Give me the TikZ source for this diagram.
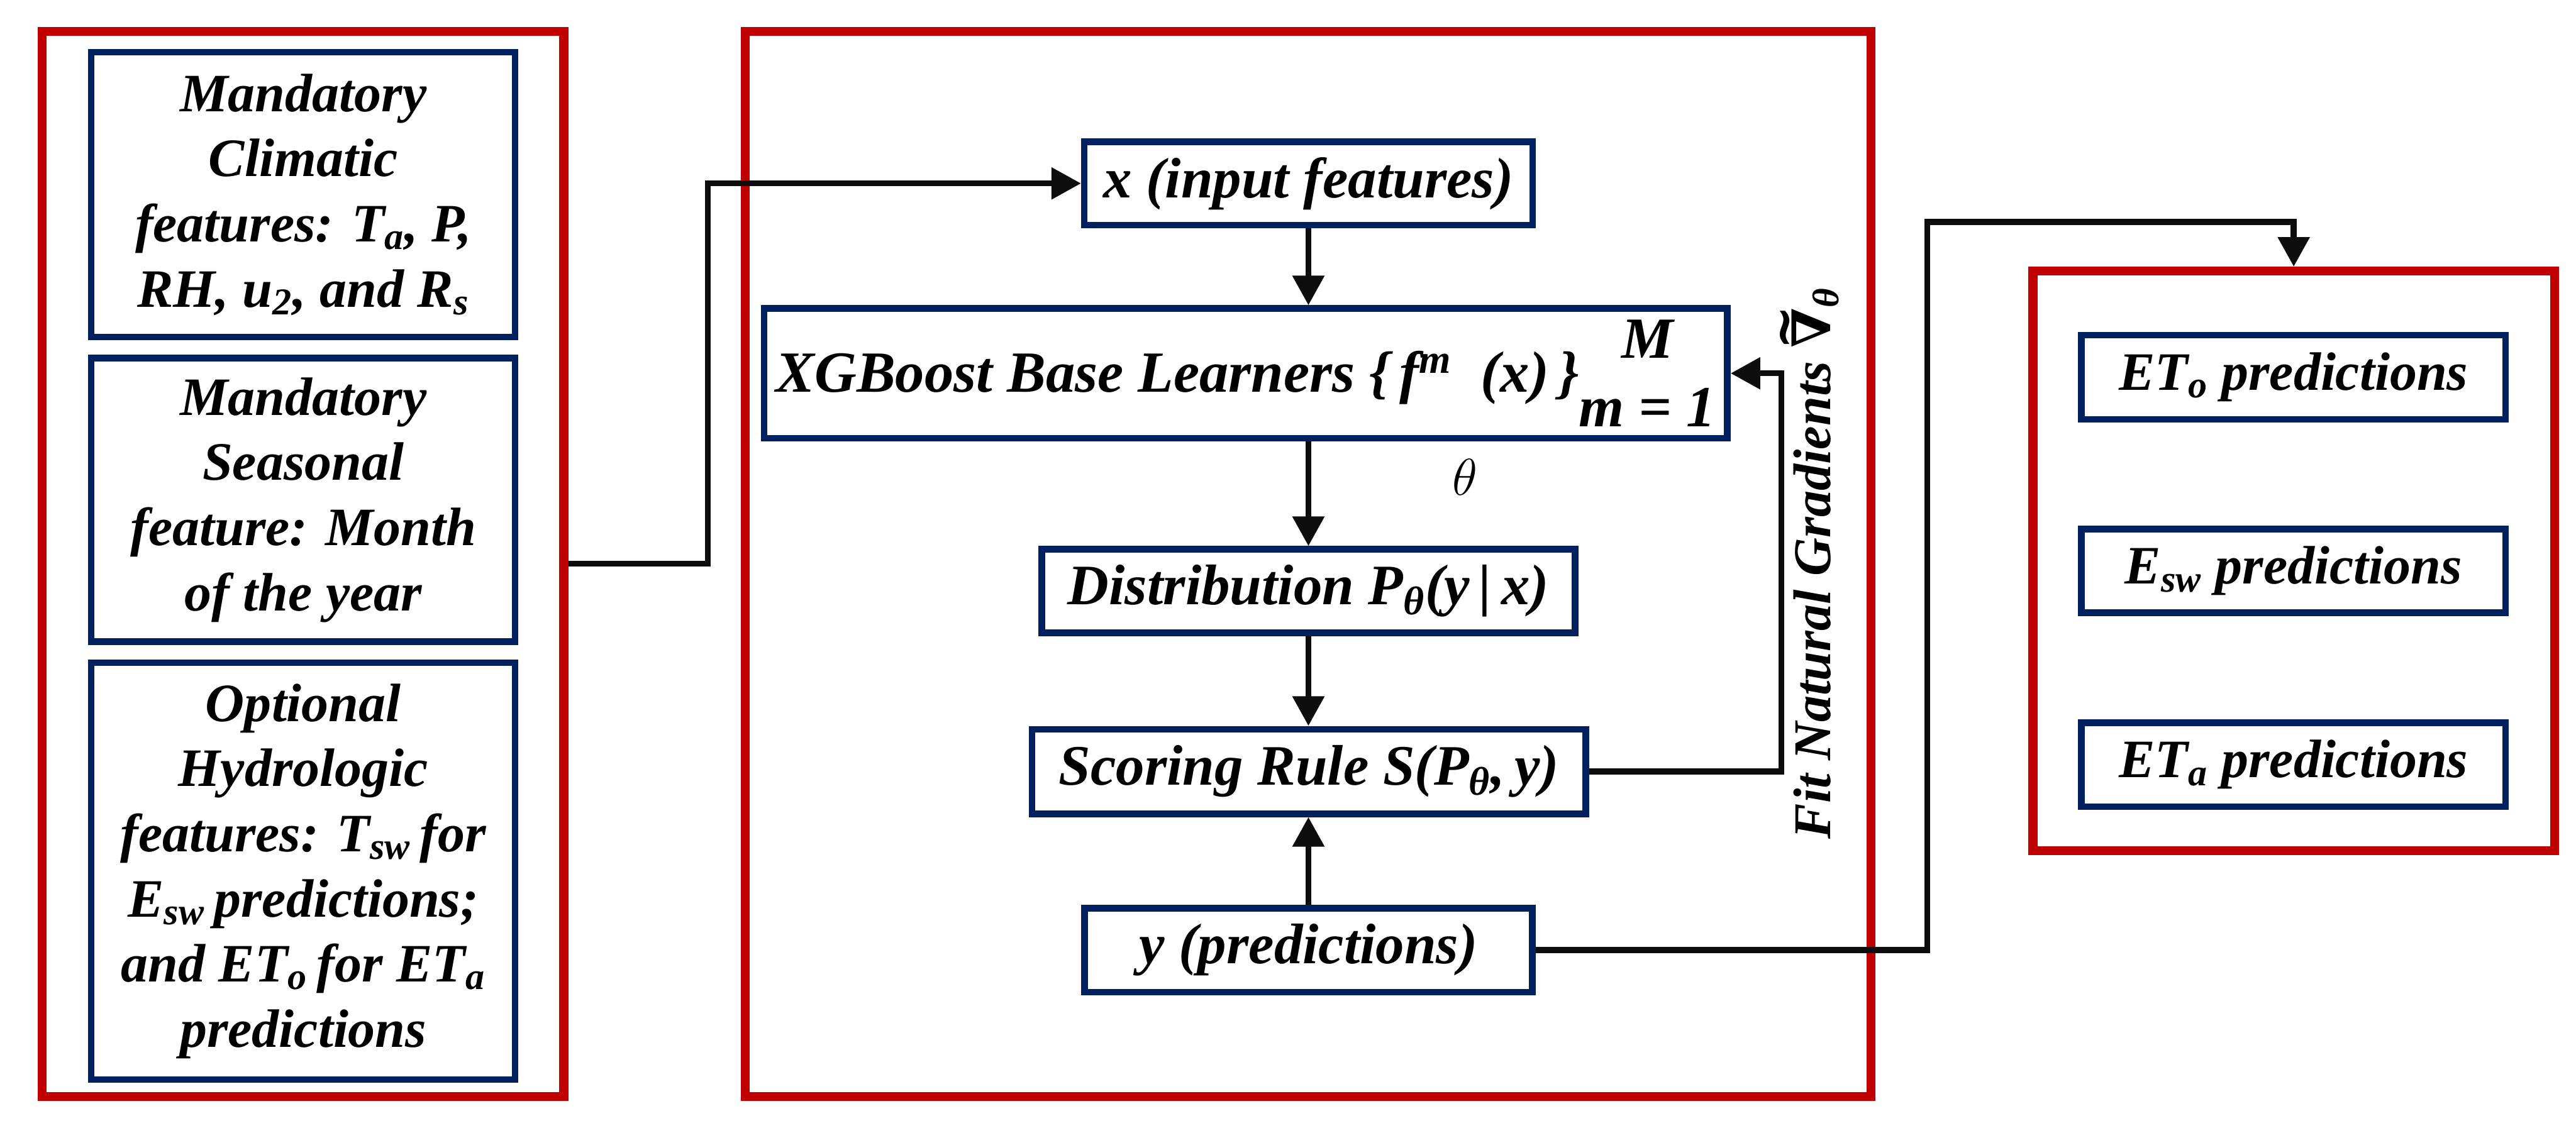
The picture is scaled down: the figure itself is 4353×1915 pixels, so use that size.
\documentclass[tikz,border=0pt]{standalone}
\usepackage{amsmath}
\usepackage{fontspec}
\setmainfont{Liberation Serif}
\newfontfamily\dvserif{DejaVu Serif}
\usetikzlibrary{arrows.meta}
\definecolor{frred}{HTML}{C00000}
\definecolor{bxblue}{HTML}{002060}
\definecolor{lnblack}{HTML}{0D0D0D}
\newcommand\txtfont{\fontsize{26}{31.3}\selectfont\bfseries\itshape}
\newcommand\ctrfont{\fontsize{27.5}{31.3}\selectfont\bfseries\itshape}
\newsavebox\mylimbox
\newcommand\xglims{\sbox\mylimbox{m = 1}\rlap{\makebox[\wd\mylimbox]{\raisebox{0.58em}{M}}}\raisebox{-0.6em}{\usebox\mylimbox}}
\newcommand\tnabla{{\dvserif\bfseries\upshape\ooalign{\char"2207\cr\hidewidth\raisebox{0.55em}{\char"7E}\hidewidth\cr}}}
\begin{document}
\begin{tikzpicture}[x=0.01cm,y=-0.01cm,
  redframe/.style={draw=frred,line width=0.15cm,inner sep=0pt},
  bluebox/.style={draw=bxblue,line width=0.11cm,inner sep=0pt,align=center,font=\txtfont},
  ctrbox/.style={bluebox,font=\ctrfont},
  conn/.style={draw=lnblack,line width=0.1cm},
  arr/.style={conn,-{Triangle[length=0.5cm,width=0.52cm]}}]
\useasboundingbox[fill=white] (0,0) rectangle (4353,1915);
% frames
\node[redframe,minimum width=8.81cm,minimum height=17.99cm] (lframe) at (512,953) {};
\node[redframe,minimum width=19.02cm,minimum height=17.99cm] (mframe) at (2210.5,953) {};
\node[redframe,minimum width=8.81cm,minimum height=9.79cm] (rframe) at (3876,948) {};
% left boxes
\node[bluebox,minimum width=7.16cm,minimum height=4.81cm] (clim) at (512.5,329)
  {Mandatory\\Climatic\\features: T\textsubscript{a}, P,\\RH, u\textsubscript{2}, and R\textsubscript{s}};
\node[bluebox,minimum width=7.16cm,minimum height=4.79cm] (seas) at (512.5,845)
  {Mandatory\\Seasonal\\feature: Month\\of the year};
\node[bluebox,minimum width=7.16cm,minimum height=7.04cm] (hydro) at (512.5,1472.5)
  {Optional\\Hydrologic\\features: T\textsubscript{sw}\,for\\E\textsubscript{sw}\,predictions;\\and ET\textsubscript{o}\,for ET\textsubscript{a}\\predictions};
% centre boxes
\node[ctrbox,minimum width=7.57cm,minimum height=1.41cm] (xin) at (2211,310) {x (input features)};
\node[ctrbox,font=\fontsize{28}{31.3}\selectfont\bfseries\itshape,minimum width=16.27cm,minimum height=2.19cm] (xgb) at (2105,631)
  {XGBoost Base Learners \{\,f\textsuperscript{m}\ \ (x)\,\}\xglims};
\node[ctrbox,minimum width=9.01cm,minimum height=1.41cm] (dist) at (2211,999)
  {Distribution P\textsubscript{θ}(y\,|\,x)};
\node[ctrbox,minimum width=9.35cm,minimum height=1.43cm] (score) at (2212,1304)
  {Scoring Rule S(P\textsubscript{θ},\,y)};
\node[ctrbox,minimum width=7.56cm,minimum height=1.42cm] (ypred) at (2211,1606) {y (predictions)};
% right boxes
\node[bluebox,minimum width=7.16cm,minimum height=1.42cm] (eto) at (3875.5,637.5) {ET\textsubscript{o} predictions};
\node[bluebox,minimum width=7.16cm,minimum height=1.41cm] (esw) at (3875.5,965) {E\textsubscript{sw} predictions};
\node[bluebox,minimum width=7.16cm,minimum height=1.42cm] (eta) at (3875.5,1292.5) {ET\textsubscript{a} predictions};
% labels
\node[font=\fontsize{26}{31}\selectfont] (theta) at (2476,806) {$\theta$};
\node[rotate=90,anchor=base,font=\fontsize{25.5}{30}\selectfont\bfseries\itshape] (fng) at (3093,952)
  {Fit Natural Gradients \tnabla\textsubscript{θ}};
% connectors
\coordinate (k1) at (1196,953);
\draw[arr] (lframe.east) -- (k1) |- (xin.west);
\coordinate (k2) at (3010,631);
\draw[arr] (score.east) -| (k2) -- (xgb.east);
\coordinate (k3) at (3257,375);
\draw[arr] (ypred.east) -| (k3) -| (rframe.north);
\draw[arr] (xin.south) -- (xin.south |- xgb.north);
\draw[arr] (dist.north |- xgb.south) -- (dist.north);
\draw[arr] (dist.south) -- (dist.south |- score.north);
\draw[arr] (ypred.north) -- (ypred.north |- score.south);
\end{tikzpicture}
\end{document}
